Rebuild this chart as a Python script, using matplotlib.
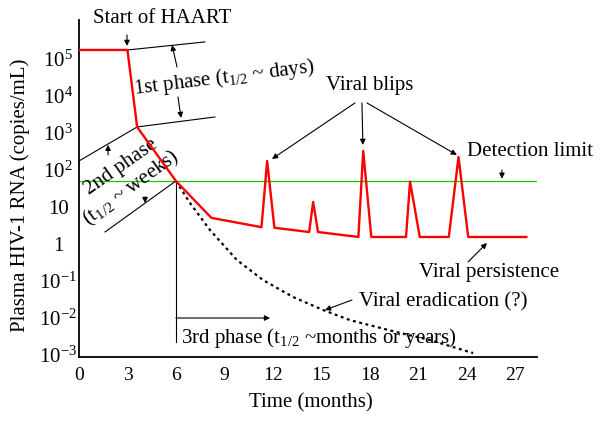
import matplotlib
matplotlib.use("Agg")
import matplotlib.pyplot as plt
import numpy as np

plt.rcParams['font.family'] = ['Liberation Serif', 'DejaVu Serif']
plt.rcParams['mathtext.fontset'] = 'custom'
plt.rcParams['mathtext.rm'] = 'Liberation Serif'
plt.rcParams['mathtext.it'] = 'Liberation Serif:italic'
plt.rcParams['mathtext.bf'] = 'Liberation Serif:bold'

# ---- data ----
x_ticks = [0, 3, 6, 9, 12, 15, 18, 21, 24, 27]
y_ticks = [1e5, 1e4, 1e3, 1e2, 10, 1, 1e-1, 1e-2, 1e-3]
y_ticklabels = [r'$\mathregular{10^{5}}$', r'$\mathregular{10^{4}}$', r'$\mathregular{10^{3}}$',
                r'$\mathregular{10^{2}}$', '10', '1', r'$\mathregular{10^{-1}}$',
                r'$\mathregular{10^{-2}}$', r'$\mathregular{10^{-3}}$']

viral_t = [0, 3.0, 3.6, 6.0, 8.2, 11.3, 11.65, 12.1, 14.25, 14.5, 14.8,
           17.3, 17.6, 18.1, 20.25, 20.5, 21.1, 22.9, 23.5, 24.1, 27.7]
viral_load = [1.77e5, 1.77e5, 1450, 50, 5.0, 2.8, 174, 2.7, 2.07, 13.5, 2.07,
              1.52, 325, 1.52, 1.52, 48, 1.52, 1.52, 223, 1.52, 1.52]

erad_t = [6.0, 6.87, 8.11, 9.78, 11.39, 13.25, 15.11, 16.78, 19.69, 21.73, 24.4]
erad_load = [50, 12.7, 2.35, 0.36, 0.104, 0.036, 0.016, 0.0085, 0.0040, 0.00245, 0.00109]

detection_limit = 50

# ---- figure ----
W, H = 601, 422
fig = plt.figure(figsize=(W / 100, H / 100), dpi=100)
ax = fig.add_axes([79 / W, (H - 357) / H, (537 - 79) / W, (357 - 20) / H])

ax.set_yscale('log')
ax.set_xlim(0, 28.36)
ax.set_ylim(10 ** -3.07, 10 ** 6.06)

ax.axhline(detection_limit, color='#11cc00', lw=0.9, zorder=2)
ax.plot(erad_t, erad_load, color='black', lw=1.6, ls=(0, (1.3, 1.6)), zorder=3)
ax.plot(viral_t, viral_load, color='#ff0000', lw=1.7, zorder=4)

for s in ['top', 'right']:
    ax.spines[s].set_visible(False)
for s in ['left', 'bottom']:
    ax.spines[s].set_linewidth(1.3)

ax.set_xticks(x_ticks)
ax.set_xticklabels([str(v) for v in x_ticks])
ax.set_yticks(y_ticks)
ax.set_yticklabels(y_ticklabels)
ax.minorticks_off()
ax.tick_params(axis='both', length=0)
ax.tick_params(axis='x', pad=7, labelsize=14)
ax.tick_params(axis='y', pad=15, labelsize=15)
for lab in ax.get_yticklabels():
    lab.set_horizontalalignment('center')

fig.text(20 / W, 1 - 195 / H, 'Plasma HIV-1 RNA (copies/mL)', rotation=90,
         ha='center', va='center', fontsize=15)
fig.text(311 / W, 1 - 403 / H, 'Time (months)', ha='center', va='center', fontsize=15)

lk = dict(color='black', lw=0.8)
ap = dict(arrowstyle='-|>', color='black', lw=0.8, mutation_scale=8, shrinkA=0, shrinkB=0)

def arrow(x0, y0, x1, y1):
    ax.annotate('', xy=(x1, 10 ** y1), xytext=(x0, 10 ** y0), arrowprops=ap,
                annotation_clip=False)

def line(x0, y0, x1, y1):
    ax.plot([x0, x1], [10 ** y0, 10 ** y1], clip_on=False, **lk)

fs = 15
# Start of HAART
ax.text(5.14, 10 ** 6.089, 'Start of HAART', ha='center', va='center', fontsize=fs, clip_on=False)
arrow(2.97, 5.655, 2.97, 5.357)

# 1st phase
line(3.03, 5.249, 7.8, 5.466)
line(3.6, 3.162, 8.42, 3.433)
arrow(6.07, 4.788, 5.76, 5.384)
arrow(6.13, 3.975, 6.32, 3.406)
ax.text(8.98, 10 ** 4.49, r'1st phase (t$_{1/2}$ ~ days)', ha='center', va='center',
        fontsize=fs, rotation=7, rotation_mode='anchor')

# 2nd phase
line(3.6, 3.162, 0, 2.241)
line(6.0, 1.699, 1.61, 0.317)
arrow(1.8, 2.403, 1.8, 2.68)
arrow(4.09, 1.265, 4.09, 1.1)
ax.text(2.6, 10 ** 2.08, '2nd phase', ha='center', va='center', fontsize=fs,
        rotation=35, rotation_mode='anchor')
ax.text(3.22, 10 ** 1.509, r'(t$_{1/2}$ ~ weeks)', ha='center', va='center', fontsize=fs,
        rotation=36, rotation_mode='anchor')

# 3rd phase
line(6.0, 1.699, 6.0, -2.664)
arrow(6.0, -2.014, 11.83, -2.014)
ax.text(6.32, 10 ** -2.556, r'3rd phase (t$_{1/2}$ ~months or years)', ha='left', va='center',
        fontsize=fs)

# Viral blips
ax.text(18.02, 10 ** 4.273, 'Viral blips', ha='center', va='center', fontsize=fs)
arrow(17.09, 3.813, 11.95, 2.295)
arrow(17.52, 3.813, 17.58, 2.675)
arrow(17.83, 3.813, 23.4, 2.404)

# Detection limit
ax.text(27.93, 10 ** 2.485, 'Detection limit', ha='center', va='center', fontsize=fs, clip_on=False)
arrow(26.19, 1.997, 26.19, 1.76)

# Viral persistence
ax.text(25.39, 10 ** -0.794, 'Viral persistence', ha='center', va='center', fontsize=fs)
arrow(24.09, -0.496, 25.26, 0.019)

# Viral eradication
ax.text(22.54, 10 ** -1.58, 'Viral eradication (?)', ha='center', va='center', fontsize=fs)
arrow(16.9, -1.526, 15.23, -1.797)

fig.savefig('out.png', dpi=100)
